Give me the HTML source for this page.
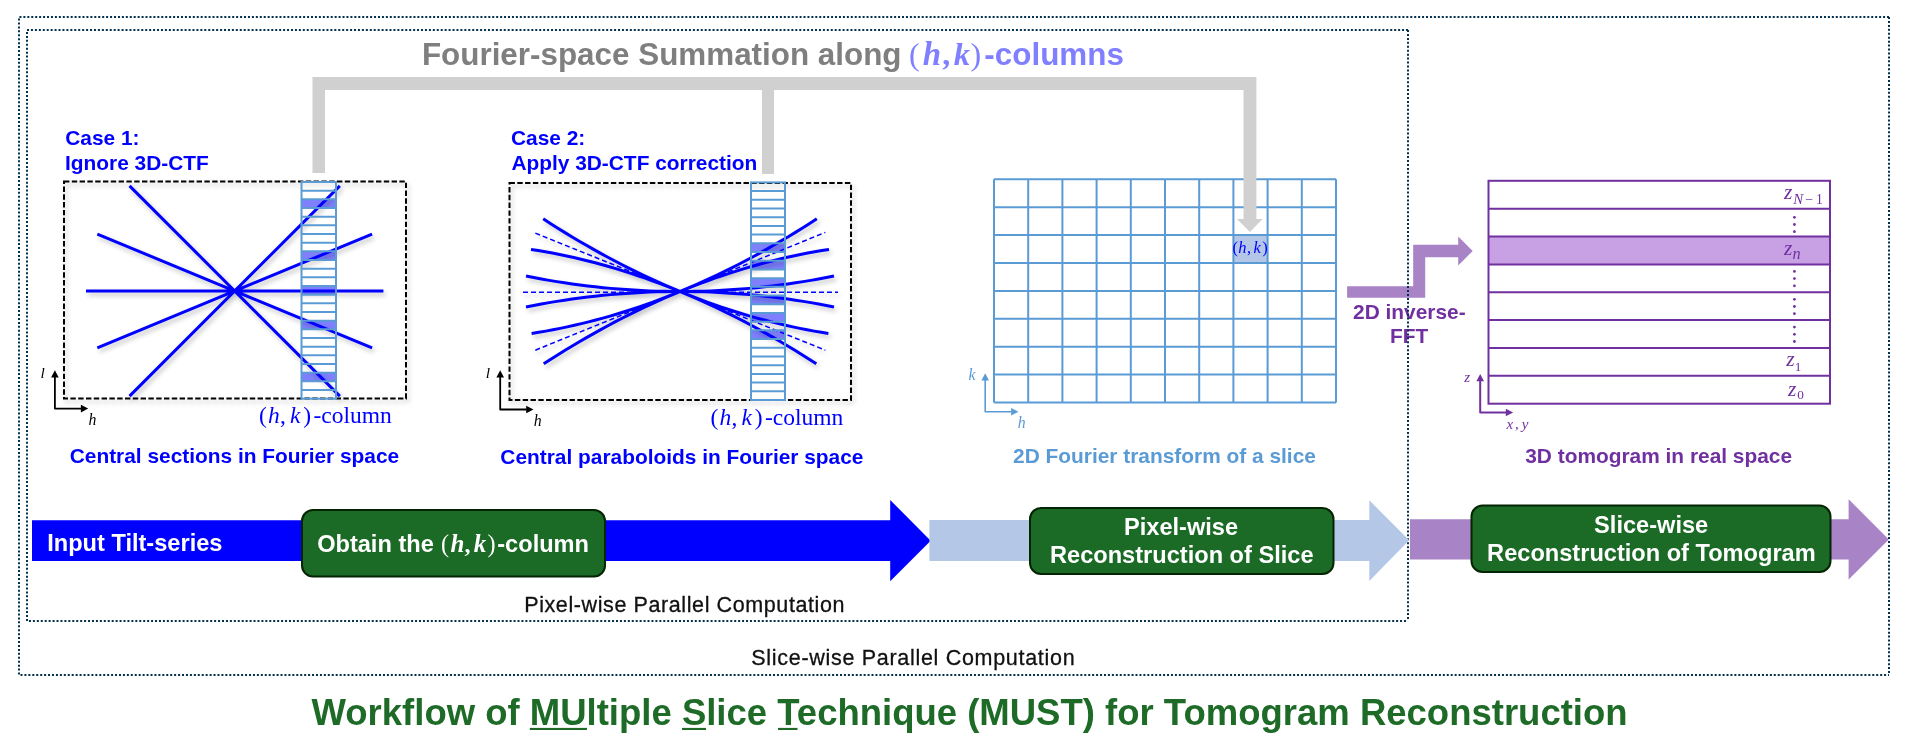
<!DOCTYPE html>
<html><head><meta charset="utf-8"><style>html,body{margin:0;padding:0;background:#fff;width:1919px;height:737px;overflow:hidden}svg{display:block;will-change:transform}</style></head>
<body>
<svg width="1919" height="737" viewBox="0 0 1919 737">
<defs>
<filter id="sh" x="-10%" y="-10%" width="130%" height="130%"><feGaussianBlur in="SourceAlpha" stdDeviation="2.4"/><feOffset dx="2" dy="2.5" result="b"/><feComponentTransfer><feFuncA type="linear" slope="0.26"/></feComponentTransfer><feMerge><feMergeNode/><feMergeNode in="SourceGraphic"/></feMerge></filter>
</defs>
<rect width="1919" height="737" fill="#fff"/>
<path d="M1889,17H19V675H1889" fill="none" stroke="#03304d" stroke-width="2" stroke-dasharray="2 1.94"/>
<path d="M1408,30H27V621H1408" fill="none" stroke="#03304d" stroke-width="2" stroke-dasharray="2 1.94"/>
<text x="421.90" y="64.7" font-family="Liberation Sans" font-style="normal" font-weight="bold" font-size="31.4" fill="#7f7f7f" >Fourier-space Summation along</text>
<text x="908.99" y="64.7" font-family="Liberation Serif" font-style="normal" font-weight="normal" font-size="32" fill="#7f7fff" >(</text>
<text x="922.66" y="64.7" font-family="Liberation Serif" font-style="italic" font-weight="bold" font-size="33" fill="#7f7fff" >h</text>
<text x="942.18" y="64.7" font-family="Liberation Serif" font-style="normal" font-weight="bold" font-size="32" fill="#7f7fff" >,</text>
<text x="953.76" y="64.7" font-family="Liberation Serif" font-style="italic" font-weight="bold" font-size="32.5" fill="#7f7fff" >k</text>
<text x="970.47" y="64.7" font-family="Liberation Serif" font-style="normal" font-weight="normal" font-size="32" fill="#7f7fff" >)</text>
<text x="984.37" y="64.7" font-family="Liberation Sans" font-style="normal" font-weight="bold" font-size="31.4" fill="#7f7fff" >-columns</text>
<text x="65.24" y="144.9" font-family="Liberation Sans" font-style="normal" font-weight="bold" font-size="20.88" fill="#0000ff" >Case 1:</text>
<text x="65.00" y="169.8" font-family="Liberation Sans" font-style="normal" font-weight="bold" font-size="20.88" fill="#0000ff" >Ignore 3D-CTF</text>
<text x="511.04" y="144.7" font-family="Liberation Sans" font-style="normal" font-weight="bold" font-size="20.88" fill="#0000ff" >Case 2:</text>
<text x="511.38" y="170" font-family="Liberation Sans" font-style="normal" font-weight="bold" font-size="20.88" fill="#0000ff" >Apply 3D-CTF correction</text>
<g filter="url(#sh)"><rect x="64" y="181.5" width="342" height="217" fill="none" stroke="#000" stroke-width="2" stroke-dasharray="5.4 2.4"/></g>
<rect x="301.5" y="199.34" width="34.5" height="8.67" fill="#7f7fff"/>
<rect x="301.5" y="251.34" width="34.5" height="8.67" fill="#7f7fff"/>
<rect x="301.5" y="286.02" width="34.5" height="8.67" fill="#7f7fff"/>
<rect x="301.5" y="320.69" width="34.5" height="8.67" fill="#7f7fff"/>
<rect x="301.5" y="372.70" width="34.5" height="8.67" fill="#7f7fff"/>
<g filter="url(#sh)"><path d="M86.00,291.00L383.40,291.00M97.32,234.09L372.08,347.91M97.32,347.91L372.08,234.09M129.55,185.85L339.85,396.15M129.55,396.15L339.85,185.85" stroke="#0000ff" stroke-width="3" fill="none"/></g>
<path d="M301.5,190.67H336M301.5,199.34H336M301.5,208.00H336M301.5,216.67H336M301.5,225.34H336M301.5,234.01H336M301.5,242.68H336M301.5,251.34H336M301.5,260.01H336M301.5,268.68H336M301.5,277.35H336M301.5,286.02H336M301.5,294.68H336M301.5,303.35H336M301.5,312.02H336M301.5,320.69H336M301.5,329.36H336M301.5,338.02H336M301.5,346.69H336M301.5,355.36H336M301.5,364.03H336M301.5,372.70H336M301.5,381.36H336M301.5,390.03H336" stroke="#5b9bd5" stroke-width="2" fill="none"/>
<rect x="301.5" y="182" width="34.5" height="216.7" stroke="#5b9bd5" stroke-width="2" fill="none"/>
<path d="M54.9,377.1V408.6H81.4" stroke="#000" stroke-width="1.8" fill="none" stroke-linejoin="round"/>
<path d="M51.1,377.6L54.9,370.3L58.699999999999996,377.6Z" fill="#000"/>
<path d="M80.9,404.8L88.2,408.6L80.9,412.40000000000003Z" fill="#000"/>
<text x="40.38" y="377.9" font-family="Liberation Serif" font-style="italic" font-weight="normal" font-size="15.5" fill="#000" >l</text>
<text x="88.53" y="425.1" font-family="Liberation Serif" font-style="italic" font-weight="normal" font-size="15.8" fill="#000" >h</text>
<text x="258.97" y="423" font-family="Liberation Serif" font-style="normal" font-weight="normal" font-size="23.5" fill="#0000ff" >(</text>
<text x="268.05" y="423" font-family="Liberation Serif" font-style="italic" font-weight="normal" font-size="23.5" fill="#0000ff" >h</text>
<text x="280.10" y="423" font-family="Liberation Serif" font-style="normal" font-weight="normal" font-size="23.5" fill="#0000ff" >,</text>
<text x="290.02" y="423" font-family="Liberation Serif" font-style="italic" font-weight="normal" font-size="23.5" fill="#0000ff" >k</text>
<text x="303.14" y="423" font-family="Liberation Serif" font-style="normal" font-weight="normal" font-size="23.5" fill="#0000ff" >)</text>
<text x="313.53" y="423" font-family="Liberation Serif" font-style="normal" font-weight="normal" font-size="23.5" fill="#0000ff" >-column</text>
<text x="69.74" y="463.4" font-family="Liberation Sans" font-style="normal" font-weight="bold" font-size="20.88" fill="#0000ff" >Central sections in Fourier space</text>
<g filter="url(#sh)"><rect x="509.5" y="183" width="341.5" height="217" fill="none" stroke="#000" stroke-width="2" stroke-dasharray="5.4 2.4"/></g>
<rect x="751" y="243.33" width="34" height="8.70" fill="#7f7fff"/>
<rect x="751" y="260.74" width="34" height="8.70" fill="#7f7fff"/>
<rect x="751" y="278.14" width="34" height="8.70" fill="#7f7fff"/>
<rect x="751" y="295.55" width="34" height="8.70" fill="#7f7fff"/>
<rect x="751" y="312.96" width="34" height="8.70" fill="#7f7fff"/>
<rect x="751" y="330.37" width="34" height="8.70" fill="#7f7fff"/>
<g filter="url(#sh)"><path d="M531.60,333.48L538.73,332.34L545.86,331.11L552.99,329.79L560.12,328.39L567.25,326.89L574.38,325.31L581.51,323.64L588.64,321.88L595.77,320.03L602.90,318.09L610.03,316.07L617.16,313.95L624.29,311.75L631.42,309.46L638.55,307.08L645.68,304.62L652.81,302.06L659.94,299.41L667.07,296.68L674.20,293.86L681.33,290.95L688.46,287.95L695.59,284.87L702.72,281.69L709.85,278.43L716.98,275.07L724.11,271.63L731.24,268.10L738.37,264.49L745.50,260.78L752.63,256.99L759.76,253.10L766.89,249.13L774.02,245.07L781.15,240.92L788.28,236.69L795.41,232.36L802.54,227.95L809.67,223.45L816.80,218.86M543.70,363.82L550.83,359.23L557.97,354.73L565.10,350.33L572.23,346.01L579.36,341.77L586.50,337.63L593.63,333.58L600.76,329.61L607.89,325.73L615.02,321.94L622.16,318.24L629.29,314.63L636.42,311.11L643.55,307.67L650.69,304.32L657.82,301.07L664.95,297.90L672.09,294.82L679.22,291.82L686.35,288.92L693.48,286.10L700.62,283.38L707.75,280.74L714.88,278.19L722.01,275.73L729.14,273.35L736.28,271.07L743.41,268.87L750.54,266.77L757.67,264.75L764.81,262.82L771.94,260.97L779.07,259.22L786.21,257.56L793.34,255.98L800.47,254.49L807.60,253.09L814.73,251.78L821.87,250.56L829.00,249.43M543.20,218.86L550.33,223.45L557.46,227.95L564.59,232.36L571.72,236.69L578.85,240.92L585.98,245.07L593.11,249.13L600.24,253.10L607.37,256.99L614.50,260.78L621.63,264.49L628.76,268.10L635.89,271.63L643.02,275.07L650.15,278.43L657.28,281.69L664.41,284.87L671.54,287.95L678.67,290.95L685.80,293.86L692.93,296.68L700.06,299.41L707.19,302.06L714.32,304.62L721.45,307.08L728.58,309.46L735.71,311.75L742.84,313.95L749.97,316.07L757.10,318.09L764.23,320.03L771.36,321.88L778.49,323.64L785.62,325.31L792.75,326.89L799.88,328.39L807.01,329.79L814.14,331.11L821.27,332.34L828.40,333.48M531.00,249.43L538.13,250.56L545.26,251.78L552.40,253.09L559.53,254.49L566.66,255.98L573.79,257.56L580.93,259.22L588.06,260.97L595.19,262.82L602.33,264.75L609.46,266.77L616.59,268.87L623.72,271.07L630.86,273.35L637.99,275.73L645.12,278.19L652.25,280.74L659.38,283.38L666.52,286.10L673.65,288.92L680.78,291.82L687.91,294.82L695.05,297.90L702.18,301.07L709.31,304.32L716.44,307.67L723.58,311.11L730.71,314.63L737.84,318.24L744.98,321.94L752.11,325.73L759.24,329.61L766.37,333.58L773.50,337.63L780.64,341.77L787.77,346.01L794.90,350.33L802.03,354.73L809.17,359.23L816.30,363.82M526.00,276.08L533.70,277.59L541.40,279.01L549.10,280.36L556.80,281.63L564.50,282.83L572.20,283.95L579.90,284.99L587.60,285.95L595.30,286.84L603.00,287.65L610.70,288.38L618.40,289.03L626.10,289.61L633.80,290.11L641.50,290.54L649.20,290.88L656.90,291.15L664.60,291.35L672.30,291.46L680.00,291.50L687.70,291.46L695.40,291.35L703.10,291.15L710.80,290.88L718.50,290.54L726.20,290.11L733.90,289.61L741.60,289.03L749.30,288.38L757.00,287.65L764.70,286.84L772.40,285.95L780.10,284.99L787.80,283.95L795.50,282.83L803.20,281.63L810.90,280.36L818.60,279.01L826.30,277.59L834.00,276.08M526.00,306.92L533.70,305.41L541.40,303.99L549.10,302.64L556.80,301.37L564.50,300.17L572.20,299.05L579.90,298.01L587.60,297.05L595.30,296.16L603.00,295.35L610.70,294.62L618.40,293.97L626.10,293.39L633.80,292.89L641.50,292.46L649.20,292.12L656.90,291.85L664.60,291.65L672.30,291.54L680.00,291.50L687.70,291.54L695.40,291.65L703.10,291.85L710.80,292.12L718.50,292.46L726.20,292.89L733.90,293.39L741.60,293.97L749.30,294.62L757.00,295.35L764.70,296.16L772.40,297.05L780.10,298.01L787.80,299.05L795.50,300.17L803.20,301.37L810.90,302.64L818.60,303.99L826.30,305.41L834.00,306.92" stroke="#0000ff" stroke-width="3" fill="none"/>
<path d="M523,292.3L838,292.3M535.3,233.1L825.3,350.2M535.3,350.2L825.3,232.4" stroke="#0000ff" stroke-width="1.5" fill="none" stroke-dasharray="5 3"/></g>
<path d="M751,191.10H785M751,199.81H785M751,208.51H785M751,217.22H785M751,225.92H785M751,234.62H785M751,243.33H785M751,252.03H785M751,260.74H785M751,269.44H785M751,278.14H785M751,286.85H785M751,295.55H785M751,304.26H785M751,312.96H785M751,321.66H785M751,330.37H785M751,339.07H785M751,347.78H785M751,356.48H785M751,365.18H785M751,373.89H785M751,382.59H785M751,391.30H785" stroke="#5b9bd5" stroke-width="2" fill="none"/>
<rect x="751" y="182.4" width="34" height="217.6" stroke="#5b9bd5" stroke-width="2" fill="none"/>
<path d="M500.2,377.1V409.5H526.7" stroke="#000" stroke-width="1.8" fill="none" stroke-linejoin="round"/>
<path d="M496.4,377.6L500.2,370.3L504.0,377.6Z" fill="#000"/>
<path d="M526.2,405.7L533.5,409.5L526.2,413.3Z" fill="#000"/>
<text x="485.68" y="377.6" font-family="Liberation Serif" font-style="italic" font-weight="normal" font-size="15.5" fill="#000" >l</text>
<text x="533.83" y="426" font-family="Liberation Serif" font-style="italic" font-weight="normal" font-size="15.8" fill="#000" >h</text>
<text x="710.47" y="425" font-family="Liberation Serif" font-style="normal" font-weight="normal" font-size="23.5" fill="#0000ff" >(</text>
<text x="719.55" y="425" font-family="Liberation Serif" font-style="italic" font-weight="normal" font-size="23.5" fill="#0000ff" >h</text>
<text x="731.60" y="425" font-family="Liberation Serif" font-style="normal" font-weight="normal" font-size="23.5" fill="#0000ff" >,</text>
<text x="741.52" y="425" font-family="Liberation Serif" font-style="italic" font-weight="normal" font-size="23.5" fill="#0000ff" >k</text>
<text x="754.64" y="425" font-family="Liberation Serif" font-style="normal" font-weight="normal" font-size="23.5" fill="#0000ff" >)</text>
<text x="765.03" y="425" font-family="Liberation Serif" font-style="normal" font-weight="normal" font-size="23.5" fill="#0000ff" >-column</text>
<text x="500.34" y="463.7" font-family="Liberation Sans" font-style="normal" font-weight="bold" font-size="20.88" fill="#0000ff" >Central paraboloids in Fourier space</text>
<rect x="1233.4" y="235.1" width="34.2" height="27.9" fill="#b4c7e7"/>
<path d="M994.0,179.3V402.5M1028.2,179.3V402.5M1062.4,179.3V402.5M1096.6,179.3V402.5M1130.8,179.3V402.5M1165.0,179.3V402.5M1199.2,179.3V402.5M1233.4,179.3V402.5M1267.6,179.3V402.5M1301.8,179.3V402.5M1336.0,179.3V402.5M994,179.3H1336.0M994,207.2H1336.0M994,235.1H1336.0M994,263.0H1336.0M994,290.9H1336.0M994,318.8H1336.0M994,346.7H1336.0M994,374.6H1336.0M994,402.5H1336.0" stroke="#5b9bd5" stroke-width="2" fill="none"/>
<path d="M312.5,77 H1256.4 V219 H1262.6 L1250,232 L1237,219 H1243.5 V90 H774 V174 H762 V90 H325 V173 H312.5 Z" fill="#d0d0d0"/>
<text x="1232.47" y="252.7" font-family="Liberation Serif" font-style="normal" font-weight="normal" font-size="16.5" fill="#0000ff" >(</text>
<text x="1238.30" y="252.7" font-family="Liberation Serif" font-style="italic" font-weight="normal" font-size="16.5" fill="#0000ff" >h</text>
<text x="1247.07" y="252.7" font-family="Liberation Serif" font-style="normal" font-weight="normal" font-size="16.5" fill="#0000ff" >,</text>
<text x="1253.42" y="252.7" font-family="Liberation Serif" font-style="italic" font-weight="normal" font-size="16.5" fill="#0000ff" >k</text>
<text x="1262.37" y="252.7" font-family="Liberation Serif" font-style="normal" font-weight="normal" font-size="16.5" fill="#0000ff" >)</text>
<path d="M985.2,380.1V411.8H1011.6" stroke="#5b9bd5" stroke-width="1.6" fill="none" stroke-linejoin="round"/>
<path d="M981.4000000000001,380.6L985.2,373.3L989.0,380.6Z" fill="#5b9bd5"/>
<path d="M1011.1,408.0L1018.4,411.8L1011.1,415.6Z" fill="#5b9bd5"/>
<text x="968.54" y="380" font-family="Liberation Serif" font-style="italic" font-weight="normal" font-size="15.8" fill="#5b9bd5" >k</text>
<text x="1017.83" y="427.9" font-family="Liberation Serif" font-style="italic" font-weight="normal" font-size="15.8" fill="#5b9bd5" >h</text>
<text x="1013.08" y="462.8" font-family="Liberation Sans" font-style="normal" font-weight="bold" font-size="20.88" fill="#5b9bd5" >2D Fourier transform of a slice</text>
<path d="M1347.1,286.2H1413.2V244.8H1458.2V236.5L1472.7,250.9L1458.2,265.6V257.3H1425.2V297.7H1347.1Z" fill="#a883c6"/>
<text x="1353.08" y="318.5" font-family="Liberation Sans" font-style="normal" font-weight="bold" font-size="20.88" fill="#7030a0" >2D inverse-</text>
<text x="1390.10" y="343.2" font-family="Liberation Sans" font-style="normal" font-weight="bold" font-size="20.88" fill="#7030a0" >FFT</text>
<path d="M1408,30V621" stroke="#03304d" stroke-width="2" stroke-dasharray="2 1.94"/>
<rect x="1488.5" y="236.5" width="341.5" height="27.86" fill="#c8a0e4"/>
<path d="M1488.5,208.7H1830M1488.5,236.5H1830M1488.5,264.4H1830M1488.5,292.2H1830M1488.5,320.1H1830M1488.5,348.0H1830M1488.5,375.8H1830" stroke="#7030a0" stroke-width="2" fill="none"/>
<rect x="1488.5" y="180.8" width="341.5" height="222.9" stroke="#7030a0" stroke-width="2" fill="none"/>
<text x="1783.94" y="198.8" font-family="Liberation Serif" font-style="italic" font-weight="normal" font-size="21.5" fill="#7030a0" >z</text>
<text x="1793.21" y="203.7" font-family="Liberation Serif" font-style="italic" font-weight="normal" font-size="14.8" fill="#7030a0" >N</text>
<text x="1805.30" y="203.8" font-family="Liberation Serif" font-style="normal" font-weight="normal" font-size="14" fill="#7030a0" >−</text>
<text x="1815.90" y="203.9" font-family="Liberation Serif" font-style="normal" font-weight="normal" font-size="13.6" fill="#7030a0" >1</text>
<text x="1783.94" y="254.8" font-family="Liberation Serif" font-style="italic" font-weight="normal" font-size="21.5" fill="#7030a0" >z</text>
<text x="1792.62" y="258.8" font-family="Liberation Serif" font-style="italic" font-weight="normal" font-size="16.3" fill="#7030a0" >n</text>
<text x="1786.14" y="366" font-family="Liberation Serif" font-style="italic" font-weight="normal" font-size="21.5" fill="#7030a0" >z</text>
<text x="1794.73" y="370.9" font-family="Liberation Serif" font-style="normal" font-weight="normal" font-size="13.3" fill="#7030a0" >1</text>
<text x="1788.04" y="395.9" font-family="Liberation Serif" font-style="italic" font-weight="normal" font-size="21.5" fill="#7030a0" >z</text>
<text x="1797.19" y="399.2" font-family="Liberation Serif" font-style="normal" font-weight="normal" font-size="13.3" fill="#7030a0" >0</text>
<circle cx="1794.4" cy="217.3" r="1.4" fill="#7030a0"/>
<circle cx="1794.4" cy="224.5" r="1.4" fill="#7030a0"/>
<circle cx="1794.4" cy="231.7" r="1.4" fill="#7030a0"/>
<circle cx="1794.4" cy="271.4" r="1.4" fill="#7030a0"/>
<circle cx="1794.4" cy="278.6" r="1.4" fill="#7030a0"/>
<circle cx="1794.4" cy="285.8" r="1.4" fill="#7030a0"/>
<circle cx="1794.4" cy="299.3" r="1.4" fill="#7030a0"/>
<circle cx="1794.4" cy="306.5" r="1.4" fill="#7030a0"/>
<circle cx="1794.4" cy="313.7" r="1.4" fill="#7030a0"/>
<circle cx="1794.4" cy="327.1" r="1.4" fill="#7030a0"/>
<circle cx="1794.4" cy="334.3" r="1.4" fill="#7030a0"/>
<circle cx="1794.4" cy="341.5" r="1.4" fill="#7030a0"/>
<path d="M1480.2,380.8V412.5H1506.3" stroke="#7030a0" stroke-width="2" fill="none" stroke-linejoin="round"/>
<path d="M1476.4,381.3L1480.2,374L1484.0,381.3Z" fill="#7030a0"/>
<path d="M1505.8,408.7L1513.1,412.5L1505.8,416.3Z" fill="#7030a0"/>
<text x="1464.17" y="381.9" font-family="Liberation Serif" font-style="italic" font-weight="normal" font-size="15" fill="#7030a0" >z</text>
<text x="1506.48" y="428.7" font-family="Liberation Serif" font-style="italic" font-weight="normal" font-size="15" fill="#7030a0" >x</text>
<text x="1514.93" y="428.7" font-family="Liberation Serif" font-style="normal" font-weight="normal" font-size="15" fill="#7030a0" >,</text>
<text x="1521.75" y="428.7" font-family="Liberation Serif" font-style="italic" font-weight="normal" font-size="15" fill="#7030a0" >y</text>
<text x="1525.22" y="462.8" font-family="Liberation Sans" font-style="normal" font-weight="bold" font-size="20.88" fill="#7030a0" >3D tomogram in real space</text>
<path d="M32,520.2H890.2V500L930.7,540.7L890.2,581.2V561H32Z" fill="#0000ff"/>
<path d="M929.4,520.1H1369.3V500.3L1409.2,540.2L1369.3,581.1V561H929.4Z" fill="#b4c7e7"/>
<path d="M1410,519.2H1848.6V499.2L1888.8,539.4L1848.6,579.4V559.4H1410Z" fill="#a883c6"/>
<rect x="302" y="510" width="303" height="66.5" rx="11" ry="11" fill="#1b6b26" stroke="#032503" stroke-width="2"/>
<rect x="1030" y="508" width="303.5" height="66" rx="11" ry="11" fill="#1b6b26" stroke="#032503" stroke-width="2"/>
<rect x="1471.5" y="505.5" width="359.0" height="66.5" rx="11" ry="11" fill="#1b6b26" stroke="#032503" stroke-width="2"/>
<text x="47.22" y="551.1" font-family="Liberation Sans" font-style="normal" font-weight="bold" font-size="23.6" fill="#fff" >Input Tilt-series</text>
<text x="317.13" y="551.8" font-family="Liberation Sans" font-style="normal" font-weight="bold" font-size="23.6" fill="#fff" >Obtain the</text>
<text x="441.04" y="552.1" font-family="Liberation Serif" font-style="normal" font-weight="normal" font-size="24.2" fill="#fff" >(</text>
<text x="450.41" y="552.1" font-family="Liberation Serif" font-style="italic" font-weight="bold" font-size="25" fill="#fff" >h</text>
<text x="464.58" y="552.1" font-family="Liberation Serif" font-style="normal" font-weight="bold" font-size="24" fill="#fff" >,</text>
<text x="473.86" y="552.1" font-family="Liberation Serif" font-style="italic" font-weight="bold" font-size="25" fill="#fff" >k</text>
<text x="487.42" y="552.1" font-family="Liberation Serif" font-style="normal" font-weight="normal" font-size="24.2" fill="#fff" >)</text>
<text x="497.28" y="551.8" font-family="Liberation Sans" font-style="normal" font-weight="bold" font-size="23.6" fill="#fff" >-column</text>
<text x="1124.02" y="534.8" font-family="Liberation Sans" font-style="normal" font-weight="bold" font-size="23.6" fill="#fff" >Pixel-wise</text>
<text x="1050.02" y="562.7" font-family="Liberation Sans" font-style="normal" font-weight="bold" font-size="23.6" fill="#fff" >Reconstruction of Slice</text>
<text x="1594.12" y="532.9" font-family="Liberation Sans" font-style="normal" font-weight="bold" font-size="23.6" fill="#fff" >Slice-wise</text>
<text x="1487.12" y="561.1" font-family="Liberation Sans" font-style="normal" font-weight="bold" font-size="23.6" fill="#fff" >Reconstruction of Tomogram</text>
<path d="M1889,17V675" stroke="#03304d" stroke-width="2" stroke-dasharray="2 1.94"/>
<text x="524.2" y="612" font-family="Liberation Sans" font-weight="normal" font-size="21.5" fill="#111" text-anchor="start" letter-spacing="0.6" stroke="#111" stroke-width="0.3">Pixel-wise Parallel Computation</text>
<text x="751.3" y="664.7" font-family="Liberation Sans" font-weight="normal" font-size="21.5" fill="#111" text-anchor="start" letter-spacing="0.7" stroke="#111" stroke-width="0.3">Slice-wise Parallel Computation</text>
<text x="311.5" y="724.9" font-family="Liberation Sans" font-weight="bold" font-size="36.5" fill="#1e6b28">Workflow of MUltiple Slice Technique (MUST) for Tomogram Reconstruction</text>
<rect x="529.8" y="727.9" width="57.2" height="2.1" fill="#1e6b28"/>
<rect x="682" y="727.9" width="24.0" height="2.1" fill="#1e6b28"/>
<rect x="778" y="727.9" width="19.5" height="2.1" fill="#1e6b28"/>
</svg>
</body></html>
